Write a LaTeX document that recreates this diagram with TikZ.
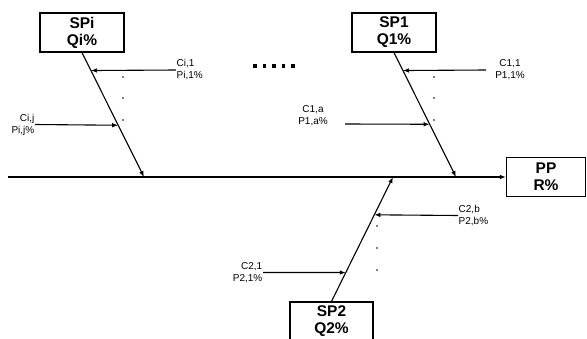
\documentclass[tikz,border=0pt]{standalone}
\usepackage{fontspec}
\setmainfont{Liberation Sans}
\usetikzlibrary{arrows.meta}
\begin{document}
\begin{tikzpicture}[x=1pt,y=-1pt,
  box/.style={draw,line width=1.2pt,minimum width=84pt,minimum height=39pt,inner sep=1pt,
    align=center,font=\fontsize{15.5}{17}\selectfont\bfseries},
  lbl/.style={inner sep=0.5pt,font=\fontsize{10}{12}\selectfont},
  ln/.style={line width=1.1pt},
  arr/.style={line width=1.1pt,-{Latex[length=6pt,width=4.5pt]}},
  dot/.style={fill=black}]
\clip (0,0) rectangle (587,338);
\useasboundingbox (0,0) rectangle (587,338);
% boxes
\node[box] (SPi) at (82,32.5) {SPi\\Qi\%};
\node[box] (SP1) at (394,32.5) {SP1\\Q1\%};
\node[box,minimum width=79pt] (PP) at (546,177) {PP\\R\%};
\node[box,minimum width=83pt] (SP2) at (331.5,321.5) {SP2\\Q2\%};
% spine
\coordinate (s0) at (8,177);
\draw[arr] (s0) -- (PP.west);
% branches
\coordinate (ei) at (144,177);
\coordinate (e1) at (456,177);
\coordinate (e2) at (393,177);
\draw[arr] (SPi.south) -- (ei) coordinate[pos=0.144] (ti1) coordinate[pos=0.584] (tij);
\draw[arr] (SP1.south) -- (e1) coordinate[pos=0.144] (t11) coordinate[pos=0.576] (t1a);
\draw[arr] (SP2.north) -- (e2) coordinate[pos=0.232] (t21) coordinate[pos=0.696] (t2b);
% labels and cause arrows
\node[lbl,anchor=west,align=left] (li1) at (176,70) {Ci,1\\Pi,1\%};
\draw[arr] (li1.west) -- (ti1);
\node[lbl,anchor=east,align=right] (lij) at (35,124.5) {Ci,j\\Pi,j\%};
\draw[arr] (lij.east) -- (tij);
\node[lbl,align=center] (l11) at (510,69.5) {C1,1\\P1,1\%};
\coordinate (a11) at (486,70);
\draw[arr] (a11) -- (t11);
\node[lbl,align=center] (l1a) at (313,116) {C1,a\\P1,a\%};
\coordinate (a1a) at (345,124);
\draw[arr] (a1a) -- (t1a);
\node[lbl,anchor=west,align=left] (l2b) at (458,215.5) {C2,b\\P2,b\%};
\draw[arr] (l2b.west) -- (t2b);
\node[lbl,anchor=east,align=right] (l21) at (263,272.5) {C2,1\\P2,1\%};
\draw[arr] (l21.east) -- (t21);
% small dots
\foreach \y in {77,98,120} {
  \fill (123,\y) circle (0.9);
  \fill (434,\y) circle (0.9);
}
\foreach \y in {226,248,270} \fill (377,\y) circle (0.9);
% big dots
\foreach \x in {255,264.5,274,283.5,293} \fill (\x-1.6,64.4) rectangle (\x+1.6,67.6);
\end{tikzpicture}
\end{document}
